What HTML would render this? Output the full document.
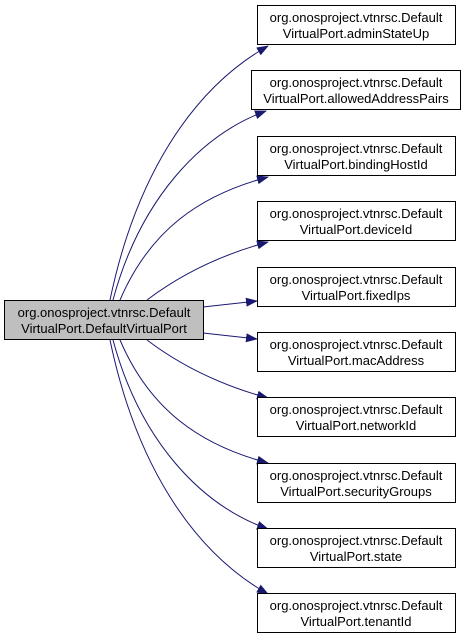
<!DOCTYPE html>
<html><head><style>
body{margin:0;background:#fff;}
svg{display:block;}
text{font-family:"Liberation Sans",sans-serif;font-size:13px;text-anchor:middle;}
</style></head><body>
<svg width="467" height="639" viewBox="0 0 467 639">
<defs><marker id="a" markerWidth="12" markerHeight="9" refX="11" refY="4.5" orient="auto" markerUnits="userSpaceOnUse"><path d="M0,0 L12,4.5 L0,9 Z" fill="#191970"/></marker></defs>
<g fill="none" stroke="#191970" stroke-width="1" marker-end="url(#a)">
<path d="M110,300 C135,180 190,90 268,46"/>
<path d="M113,300 C140,200 200,135 266,111"/>
<path d="M120,300 C150,230 200,195 268,177"/>
<path d="M147,300 C180,275 220,255 268,242"/>
<path d="M203,307 L257,301"/>
<path d="M203,333 L257,339"/>
<path d="M147,340 C180,365 220,385 268,398"/>
<path d="M120,340 C150,410 200,445 268,463"/>
<path d="M113,340 C140,440 200,505 268,529"/>
<path d="M110,340 C135,460 190,550 268,594"/>
</g>
<rect x="4.5" y="300.5" width="199" height="39" fill="#bfbfbf" stroke="#000"/>
<text x="104" y="317">org.onosproject.vtnrsc.Default</text>
<text x="104" y="333">VirtualPort.DefaultVirtualPort</text>
<g fill="#fff" stroke="#000">
<rect x="257.5" y="5.5" width="198" height="39"/>
<rect x="251.5" y="70.5" width="209" height="39"/>
<rect x="257.5" y="136.5" width="198" height="39"/>
<rect x="257.5" y="201.5" width="198" height="39"/>
<rect x="257.5" y="267.5" width="198" height="39"/>
<rect x="257.5" y="332.5" width="198" height="39"/>
<rect x="257.5" y="397.5" width="198" height="39"/>
<rect x="257.5" y="463.5" width="198" height="39"/>
<rect x="257.5" y="528.5" width="198" height="39"/>
<rect x="257.5" y="593.5" width="198" height="39"/>
</g>
<g>
<text x="356" y="22">org.onosproject.vtnrsc.Default</text><text x="356" y="38">VirtualPort.adminStateUp</text>
<text x="356" y="87">org.onosproject.vtnrsc.Default</text><text x="356" y="103">VirtualPort.allowedAddressPairs</text>
<text x="356" y="153">org.onosproject.vtnrsc.Default</text><text x="356" y="169">VirtualPort.bindingHostId</text>
<text x="356" y="218">org.onosproject.vtnrsc.Default</text><text x="356" y="234">VirtualPort.deviceId</text>
<text x="356" y="284">org.onosproject.vtnrsc.Default</text><text x="356" y="300">VirtualPort.fixedIps</text>
<text x="356" y="349">org.onosproject.vtnrsc.Default</text><text x="356" y="365">VirtualPort.macAddress</text>
<text x="356" y="414">org.onosproject.vtnrsc.Default</text><text x="356" y="430">VirtualPort.networkId</text>
<text x="356" y="480">org.onosproject.vtnrsc.Default</text><text x="356" y="496">VirtualPort.securityGroups</text>
<text x="356" y="545">org.onosproject.vtnrsc.Default</text><text x="356" y="561">VirtualPort.state</text>
<text x="356" y="610">org.onosproject.vtnrsc.Default</text><text x="356" y="626">VirtualPort.tenantId</text>
</g>
</svg>
</body></html>
